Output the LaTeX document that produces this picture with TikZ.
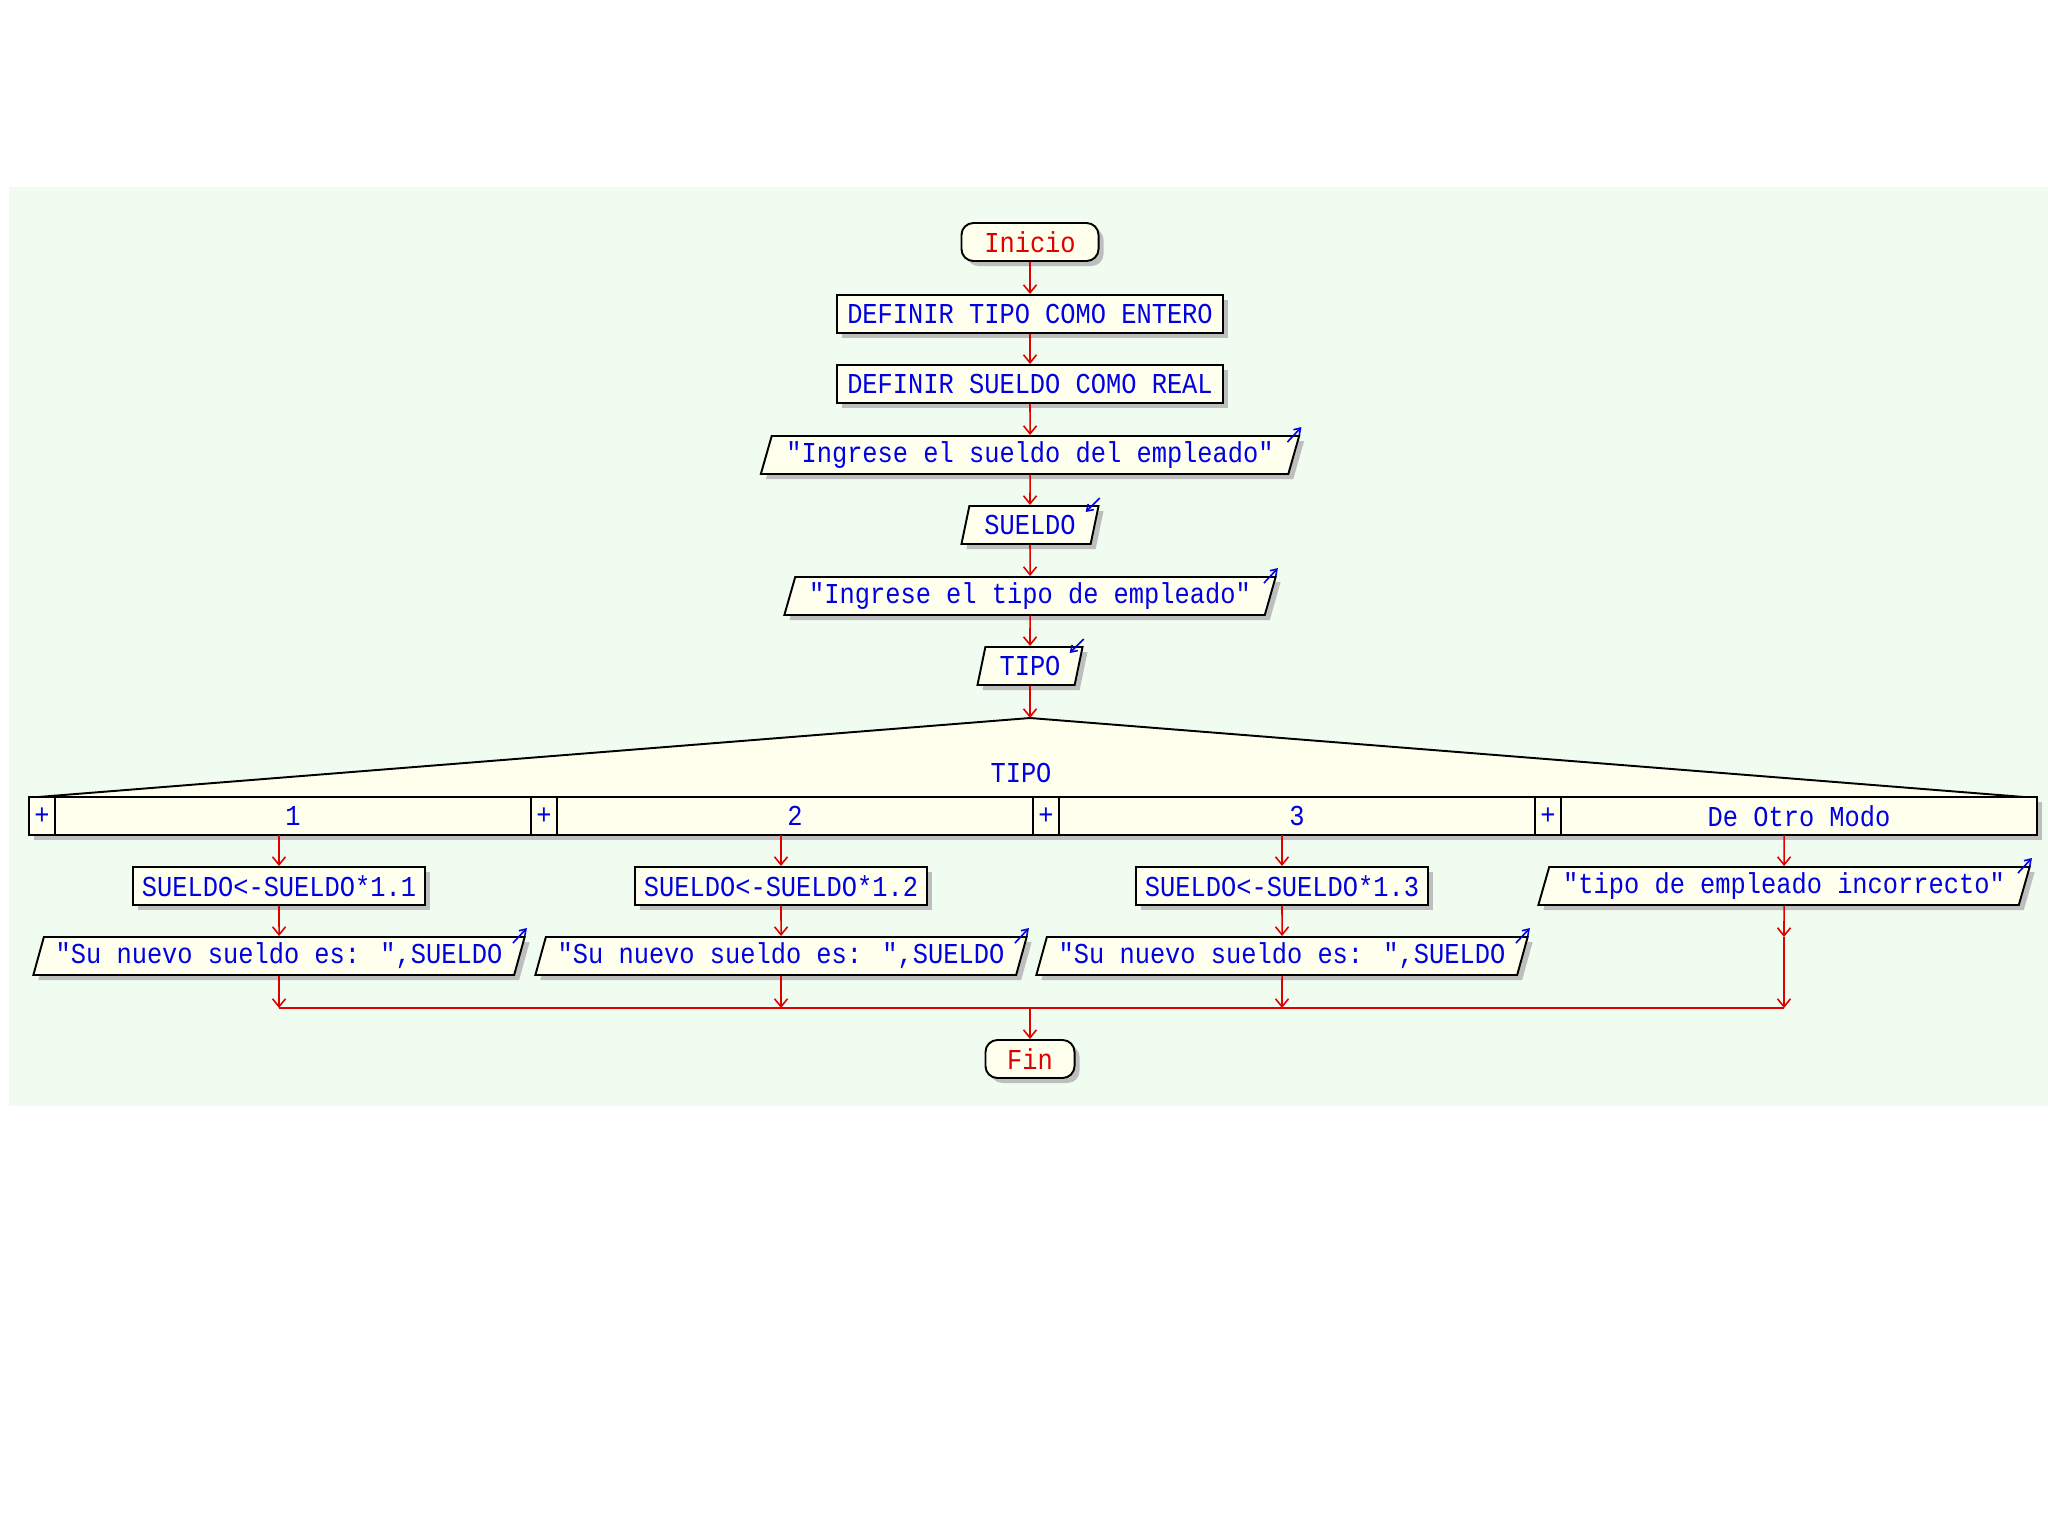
\documentclass[tikz,border=0pt]{standalone}
\usepackage{fontspec}
\usepackage{xcolor}
\usepackage{tikz}
\usetikzlibrary{arrows.meta,shapes.geometric,shadows}
\newfontfamily\psfont[FakeStretch=0.88]{Liberation Mono}
\definecolor{bggreen}{RGB}{240,252,240}
\definecolor{boxfill}{RGB}{255,255,238}
\definecolor{txtblue}{RGB}{0,0,225}
\definecolor{flowred}{RGB}{225,0,0}
\definecolor{shadegray}{RGB}{190,190,190}
\tikzset{
  boxbase/.style = {draw=black,line width=0.55pt,fill=boxfill,text=txtblue,
                    font=\psfont\fontsize{8.2}{9}\selectfont,minimum height=0.38cm,inner sep=0pt,
                    general shadow={fill=shadegray,shadow xshift=0.05cm,shadow yshift=-0.05cm}},
  procbox/.style = {boxbase,rectangle},
  iobox/.style   = {boxbase,trapezium,trapezium left angle=68,trapezium right angle=112,
                    trapezium stretches body},
  termbox/.style = {boxbase,rectangle,rounded corners=0.12cm,text=flowred},
  cellbox/.style = {boxbase,rectangle,outer sep=0pt},
  flowarr/.style = {-{Straight Barb[length=0.08cm,width=0.13cm]},flowred,line width=0.45pt},
  markarr/.style = {-{Straight Barb[length=0.06cm,width=0.08cm]},txtblue,line width=0.45pt}
}
% little arrows on the corner of the input/output boxes
\newcommand{\outmark}[1]{%
  \draw[markarr] ([shift={(-13,7)}]#1.top right corner) -- ([shift={(1,-8)}]#1.top right corner);
}
\newcommand{\inmark}[1]{%
  \draw[markarr] ([shift={(0,-7)}]#1.top right corner) -- ([shift={(-14,7)}]#1.top right corner);
}
\begin{document}
\begin{tikzpicture}[x=0.01cm,y=-0.01cm]
  \useasboundingbox (0,0) rectangle (2048,1536);
  \fill[white] (0,0) rectangle (2048,1536);
  \fill[bggreen] (9,187) rectangle (2048,1106);

  % main sequence
  \node[termbox,minimum width=1.37cm] (inicio) at (1030,242) {Inicio};
  \node[procbox,minimum width=3.85cm] (deftipo) at (1030,314) {DEFINIR TIPO COMO ENTERO};
  \node[procbox,minimum width=3.85cm] (defsueldo) at (1030,384) {DEFINIR SUELDO COMO REAL};
  \node[iobox,minimum width=5.38cm] (msg1) at (1030,455) {"Ingrese el sueldo del empleado"};
  \node[iobox,minimum width=1.37cm] (leer1) at (1030,525) {SUELDO};
  \node[iobox,minimum width=4.91cm] (msg2) at (1030,596) {"Ingrese el tipo de empleado"};
  \node[iobox,minimum width=1.05cm] (leer2) at (1030,666) {TIPO};
  \outmark{msg1} \inmark{leer1} \outmark{msg2} \inmark{leer2}

  \draw[flowarr] (inicio) -- (deftipo);
  \draw[flowarr] (deftipo) -- (defsueldo);
  \draw[flowarr] (defsueldo) -- (msg1);
  \draw[flowarr] (msg1) -- (leer1);
  \draw[flowarr] (leer1) -- (msg2);
  \draw[flowarr] (msg2) -- (leer2);

  % segun
  \coordinate (apex) at (1030,718);
  \coordinate (tril) at (38,797);
  \coordinate (trir) at (2024,797);
  \fill[boxfill] (tril) -- (apex) -- (trir) -- cycle;
  \draw[line width=0.55pt] (tril) -- (apex) -- (trir);
  \draw[flowarr] (leer2) -- (apex);
  \node[text=txtblue,font=\psfont\fontsize{8.2}{9}\selectfont] (casevar) at (1021,773) {TIPO};

  \node[cellbox,minimum width=0.26cm] (p1) at (42,816) {+};
  \node[cellbox,minimum width=4.76cm] (c1) at (293,816) {1};
  \node[cellbox,minimum width=0.26cm] (p2) at (544,816) {+};
  \node[cellbox,minimum width=4.76cm] (c2) at (795,816) {2};
  \node[cellbox,minimum width=0.26cm] (p3) at (1046,816) {+};
  \node[cellbox,minimum width=4.76cm] (c3) at (1297,816) {3};
  \node[cellbox,minimum width=0.26cm] (p4) at (1548,816) {+};
  \node[cellbox,minimum width=4.76cm] (c4) at (1799,816) {De Otro Modo};

  % branches
  \node[procbox,minimum width=2.92cm] (asig1) at (279,886) {SUELDO<-SUELDO*1.1};
  \node[procbox,minimum width=2.92cm] (asig2) at (781,886) {SUELDO<-SUELDO*1.2};
  \node[procbox,minimum width=2.92cm] (asig3) at (1282,886) {SUELDO<-SUELDO*1.3};
  \node[iobox,minimum width=4.91cm] (otro) at (1784,886) {"tipo de empleado incorrecto"};
  \node[iobox,minimum width=4.91cm] (out1) at (279,956) {"Su nuevo sueldo es: ",SUELDO};
  \node[iobox,minimum width=4.91cm] (out2) at (781,956) {"Su nuevo sueldo es: ",SUELDO};
  \node[iobox,minimum width=4.91cm] (out3) at (1282,956) {"Su nuevo sueldo es: ",SUELDO};
  \outmark{otro} \outmark{out1} \outmark{out2} \outmark{out3}
  \coordinate (gap4) at (1784,937);
  \coordinate (merge) at (1030,1008);
  \node[termbox,minimum width=0.89cm] (fin) at (1030,1059) {Fin};

  \draw[flowarr] (asig1.north |- c1.south) -- (asig1);
  \draw[flowarr] (asig2.north |- c2.south) -- (asig2);
  \draw[flowarr] (asig3.north |- c3.south) -- (asig3);
  \draw[flowarr] (otro.north |- c4.south) -- (otro);
  \draw[flowarr] (asig1) -- (out1);
  \draw[flowarr] (asig2) -- (out2);
  \draw[flowarr] (asig3) -- (out3);
  \draw[flowarr] (otro) -- (gap4);
  \draw[flowarr] (out1) -- (out1 |- merge);
  \draw[flowarr] (out2) -- (out2 |- merge);
  \draw[flowarr] (out3) -- (out3 |- merge);
  \draw[flowarr] (gap4) -- (gap4 |- merge);
  \draw[flowred,line width=0.45pt] (out1 |- merge) -- (gap4 |- merge);
  \draw[flowarr] (merge) -- (fin);
\end{tikzpicture}
\end{document}
